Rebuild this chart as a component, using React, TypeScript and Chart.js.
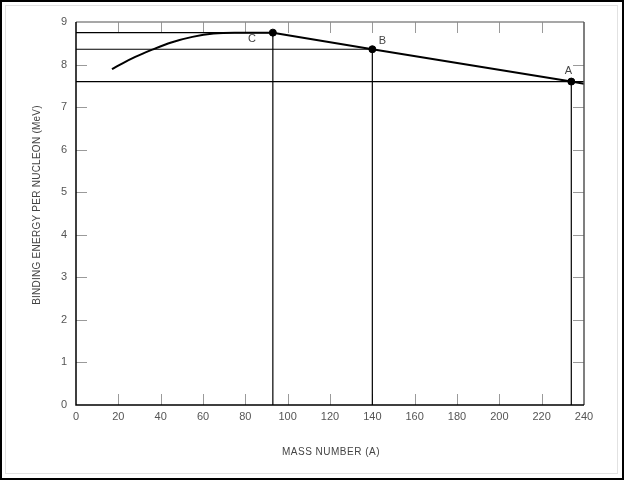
import React, { useEffect, useRef } from "react";
import { Chart, registerables } from "chart.js";

Chart.register(...registerables);

// Binding energy curve (mass number, MeV per nucleon)
const curveA = [17, 22, 28, 36, 45, 55, 65, 75, 93];
const curveE = [7.89, 8.03, 8.18, 8.35, 8.52, 8.65, 8.73, 8.75, 8.75];
const slopeA = [93, 140, 234, 240];
const slopeE = [8.75, 8.36, 7.6, 7.55];
const pointNames = ["C", "B", "A"];
const pointA = [93, 140, 234];
const pointE = [8.75, 8.36, 7.6];
const xTicks = [0, 20, 40, 60, 80, 100, 120, 140, 160, 180, 200, 220, 240];
const yTicks = [0, 1, 2, 3, 4, 5, 6, 7, 8, 9];
const xTitle = "MASS NUMBER (A)";
const yTitle = "BINDING ENERGY PER NUCLEON (MeV)";

const FONT = "'Liberation Sans', Arial, sans-serif";

export default function App() {
  const ref = useRef<HTMLCanvasElement | null>(null);

  useEffect(() => {
    document.body.style.margin = "0";
    const canvas = ref.current!;
    const pts = (xs: number[], ys: number[]) => xs.map((x, i) => ({ x, y: ys[i] }));

    const datasets: any[] = [];
    pointA.forEach((a, i) => {
      datasets.push({
        data: [
          { x: 0, y: pointE[i] },
          { x: i === 2 ? 240 : a, y: pointE[i] },
        ],
        borderColor: "#000",
        borderWidth: 1.2,
        pointRadius: 0,
        showLine: true,
        tension: 0,
      });
      datasets.push({
        data: [
          { x: a, y: 0 },
          { x: a, y: pointE[i] },
        ],
        borderColor: "#000",
        borderWidth: 1.2,
        pointRadius: 0,
        showLine: true,
        tension: 0,
      });
    });
    datasets.push({
      data: pts(curveA, curveE),
      borderColor: "#000",
      borderWidth: 2,
      pointRadius: 0,
      showLine: true,
      cubicInterpolationMode: "monotone",
    });
    datasets.push({
      data: pts(slopeA, slopeE),
      borderColor: "#000",
      borderWidth: 2,
      pointRadius: 0,
      showLine: true,
      tension: 0,
    });
    datasets.push({
      data: pts(pointA, pointE),
      borderColor: "#000",
      backgroundColor: "#000",
      pointRadius: 3.5,
      showLine: false,
    });

    const deco = {
      id: "deco",
      beforeDatasetsDraw(chart: any) {
        const c = chart.ctx as CanvasRenderingContext2D;
        const xs = chart.scales.x;
        const ys = chart.scales.y;
        const { left, right, top, bottom } = chart.chartArea;
        c.save();
        c.strokeStyle = "#9a9a9a";
        c.lineWidth = 1;
        c.beginPath();
        xTicks.forEach((t) => {
          if (t === 0 || t === 240) return;
          const px = Math.round(xs.getPixelForValue(t)) + 0.5;
          c.moveTo(px, bottom);
          c.lineTo(px, bottom - 11);
          c.moveTo(px, top);
          c.lineTo(px, top + 11);
        });
        yTicks.forEach((t) => {
          if (t === 0 || t === 9) return;
          const py = Math.round(ys.getPixelForValue(t)) + 0.5;
          c.moveTo(left, py);
          c.lineTo(left + 11, py);
          c.moveTo(right, py);
          c.lineTo(right - 11, py);
        });
        c.stroke();
        c.restore();
      },
      afterDraw(chart: any) {
        const c = chart.ctx as CanvasRenderingContext2D;
        const xs = chart.scales.x;
        const ys = chart.scales.y;
        const { left, right, top, bottom } = chart.chartArea;
        c.save();
        c.strokeStyle = "#8a8a8a";
        c.lineWidth = 1.5;
        c.beginPath();
        c.moveTo(left, top);
        c.lineTo(right, top);
        c.stroke();
        c.strokeStyle = "#555";
        c.beginPath();
        c.moveTo(right, top);
        c.lineTo(right, bottom);
        c.stroke();
        c.strokeStyle = "#000";
        c.lineWidth = 1.5;
        c.beginPath();
        c.moveTo(left, top);
        c.lineTo(left, bottom);
        c.lineTo(right, bottom);
        c.stroke();
        // point labels
        c.fillStyle = "#444";
        c.font = `11px ${FONT}`;
        c.textAlign = "center";
        c.textBaseline = "middle";
        const offs = [
          [-21, 6],
          [10, -8],
          [-3, -11],
        ];
        pointNames.forEach((n, i) => {
          const px = xs.getPixelForValue(pointA[i]);
          const py = ys.getPixelForValue(pointE[i]);
          c.fillText(n, px + offs[i][0], py + offs[i][1]);
        });
        // titles
        c.fillStyle = "#444";
        c.font = `10px ${FONT}`;
        (c as any).letterSpacing = "0.5px";
        c.fillText(xTitle, (left + right) / 2 + 1, 452);
        (c as any).letterSpacing = "0.25px";
        c.translate(37, 205);
        c.rotate(-Math.PI / 2);
        c.fillText(yTitle, 0, 0);
        c.restore();
        // outer frames
        c.save();
        c.strokeStyle = "#e2e2e2";
        c.lineWidth = 1;
        c.strokeRect(5.5, 5.5, 612, 468);
        c.strokeStyle = "#000";
        c.lineWidth = 2;
        c.strokeRect(1, 1, 622, 478);
        c.restore();
      },
    };

    const chart = new Chart(canvas, {
      type: "scatter",
      data: { datasets },
      options: {
        animation: false,
        responsive: false,
        maintainAspectRatio: false,
        layout: { padding: { top: 22, right: 40, left: 0, bottom: 0 } },
        plugins: { legend: { display: false }, tooltip: { enabled: false } },
        scales: {
          x: {
            type: "linear",
            min: 0,
            max: 240,
            afterBuildTicks: (s: any) => {
              s.ticks = xTicks.map((v) => ({ value: v }));
            },
            afterFit: (s: any) => {
              s.height = 75;
            },
            grid: { display: false, drawTicks: false },
            border: { display: false },
            ticks: { color: "#555", font: { family: FONT, size: 11 }, padding: 5, maxRotation: 0 },
          },
          y: {
            type: "linear",
            min: 0,
            max: 9,
            afterBuildTicks: (s: any) => {
              s.ticks = yTicks.map((v) => ({ value: v }));
            },
            afterFit: (s: any) => {
              s.width = 76;
            },
            grid: { display: false, drawTicks: false },
            border: { display: false },
            ticks: { color: "#555", font: { family: FONT, size: 11 }, padding: 9 },
          },
        },
      },
      plugins: [deco],
    });
    return () => chart.destroy();
  }, []);

  return <canvas ref={ref} width={624} height={480} style={{ display: "block" }} />;
}
